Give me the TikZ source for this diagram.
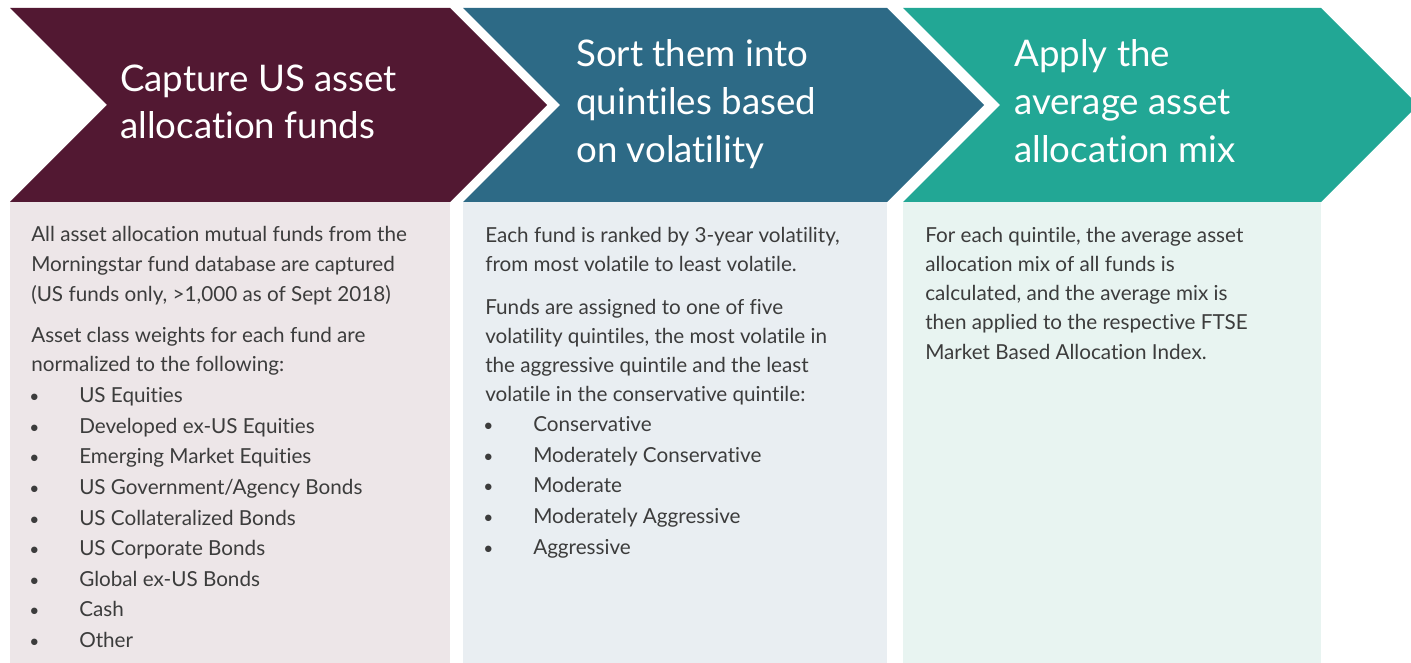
\documentclass[tikz,border=0pt]{standalone}
\usepackage{fontspec}
\setmainfont{Lato}[RawFeature=-liga]
\usepackage{xcolor}
\usetikzlibrary{positioning}
\definecolor{wine}{HTML}{521832}
\definecolor{winelight}{HTML}{EDE6E8}
\definecolor{petrol}{HTML}{2D6A86}
\definecolor{petrollight}{HTML}{E9EEF2}
\definecolor{jade}{HTML}{22A795}
\definecolor{jadelight}{HTML}{E8F4F1}
\definecolor{bodytext}{HTML}{3C3C3C}

\begin{document}
\begin{tikzpicture}[x=0.75pt, y=-0.75pt,
				head/.style={anchor=base west, inner sep=0pt, text=white, font=\fontsize{27.5}{36}\selectfont},
				body/.style={anchor=base west, inner sep=0pt, text=bodytext, font=\fontsize{15.5}{22}\selectfont},
				bullet/.style={anchor=base west, inner sep=0pt, text=bodytext, font=\fontsize{13}{22}\selectfont}]
				\path[use as bounding box, clip] (0,0) rectangle (1411,663);
				% light panels under the steps
				\fill[winelight] (10,202) rectangle (450,663);
				\fill[petrollight] (463,202) rectangle (887,663);
				\fill[jadelight] (903,202) rectangle (1321,663);
				% chevrons
				\fill[wine] (10,8) -- (450,8) -- (547,105) -- (450,202) -- (10,202) -- (107,105) -- cycle;
				\fill[petrol] (463,8) -- (887,8) -- (984,105) -- (887,202) -- (463,202) -- (560,105) -- cycle;
				\fill[jade] (903,8) -- (1321,8) -- (1418,105) -- (1321,202) -- (903,202) -- (1000,105) -- cycle;
				% headings
				\foreach \txt [count=\i] in {Capture US asset, allocation funds}
					\node (capture\i) at (120,44+47.5*\i) [head] {\txt};
				\foreach \txt [count=\i] in {Sort them into, quintiles based, on volatility}
					\node (sort\i) at (576,19+48*\i) [head] {\txt};
				\foreach \txt [count=\i] in {Apply the, average asset, allocation mix}
					\node (apply\i) at (1014,19+48*\i) [head] {\txt};
				% step 1
				\foreach \txt [count=\i] in {All asset allocation mutual funds from the, Morningstar fund database are captured, {(US funds only, >1,000 as of Sept 2018)}}
					\node (funds\i) at (31,212.5+29.5*\i) [body] {\txt};
				\foreach \txt [count=\i] in {Asset class weights for each fund are, normalized to the following:}
					\node (weights\i) at (31,312.5+29.5*\i) [body] {\txt};
				\foreach \txt [count=\i] in {US Equities, Developed ex-US Equities, Emerging Market Equities, US Government/Agency Bonds, US Collateralized Bonds, US Corporate Bonds, Global ex-US Bonds, Cash, Other} {
					\node (asset\i) at (79,372+30.6*\i) [body] {\txt};
					\node (assetdot\i) at (29,372+30.6*\i) [bullet] {•};
				}
				% step 2
				\foreach \txt [count=\i] in {{Each fund is ranked by 3-year volatility,}, from most volatile to least volatile.}
					\node (rank\i) at (485,213.5+29*\i) [body] {\txt};
				\foreach \txt [count=\i] in {Funds are assigned to one of five, {volatility quintiles, the most volatile in}, the aggressive quintile and the least, volatile in the conservative quintile:}
					\node (assign\i) at (485,285+29*\i) [body] {\txt};
				\foreach \txt [count=\i] in {Conservative, Moderately Conservative, Moderate, Moderately Aggressive, Aggressive} {
					\node (quint\i) at (533,400.5+30.8*\i) [body] {\txt};
					\node (quintdot\i) at (483,400.5+30.8*\i) [bullet] {•};
				}
				% step 3
				\foreach \txt [count=\i] in {{For each quintile, the average asset}, allocation mix of all funds is, {calculated, and the average mix is}, then applied to the respective FTSE, Market Based Allocation Index.}
					\node (mix\i) at (925,213.5+29.1*\i) [body] {\txt};
			\end{tikzpicture}
\end{document}
